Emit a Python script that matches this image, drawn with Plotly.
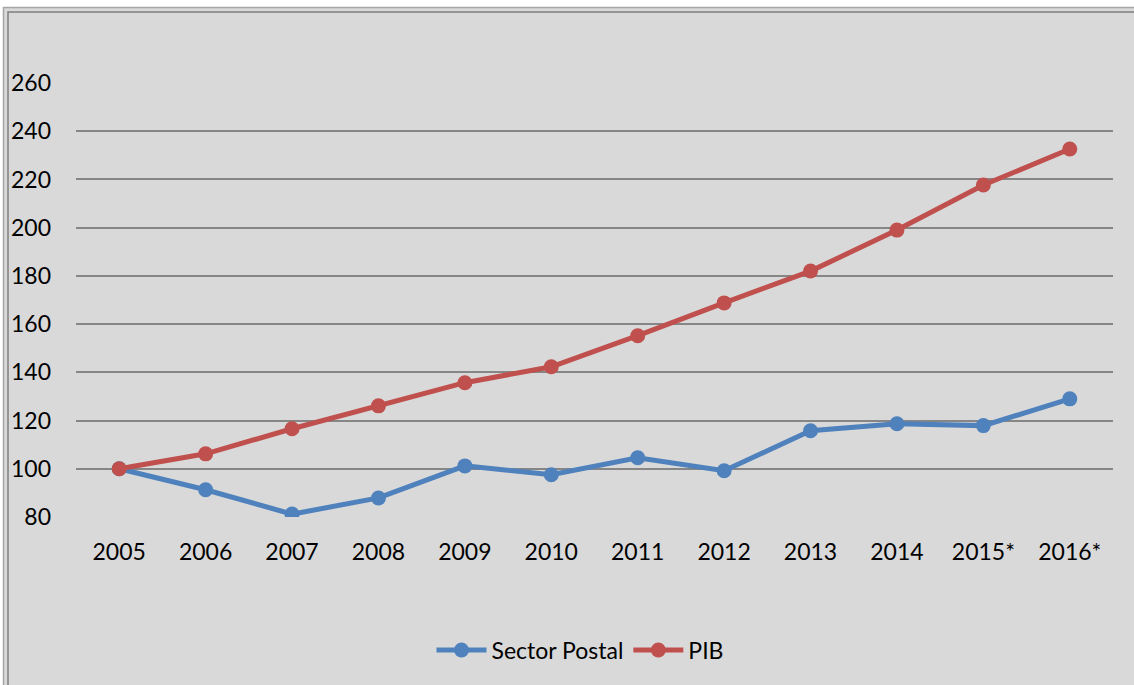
import plotly.graph_objects as go

years = ["2005", "2006", "2007", "2008", "2009", "2010", "2011", "2012", "2013", "2014", "2015*", "2016*"]
sector_postal = [100, 91.3, 81.2, 87.9, 101.2, 97.5, 104.6, 99.2, 115.8, 118.7, 117.9, 129.0]
pib = [100, 106.2, 116.6, 126.1, 135.7, 142.3, 155.2, 168.8, 182.0, 199.0, 217.7, 232.6]
y_ticks = [80, 100, 120, 140, 160, 180, 200, 220, 240, 260]

W, H = 1134, 685
L, R, T, B = 76, 21, 83, 168
PW, PH = W - L - R, H - T - B

def px(x):
    return (x - L) / PW

def py(y):
    return (H - B - y) / PH

FONT = "Lato"
BLUE = "#4F81BD"
RED = "#C0504D"

fig = go.Figure()
fig.add_trace(go.Scatter(x=years, y=sector_postal, name="Sector Postal", mode="lines+markers",
                         line=dict(color=BLUE, width=5), marker=dict(color=BLUE, size=15)))
fig.add_trace(go.Scatter(x=years, y=pib, name="PIB", mode="lines+markers",
                         line=dict(color=RED, width=5), marker=dict(color=RED, size=15)))

shapes = [
    dict(type="rect", xref="paper", yref="paper", layer="below",
         x0=px(3.5), x1=px(W + 20), y0=py(H + 20), y1=py(7.5),
         fillcolor="#D9D9D9", line=dict(color="#A6A6A6", width=1.5)),
    dict(type="rect", xref="paper", yref="paper", layer="below",
         x0=px(8), x1=px(W + 20), y0=py(H + 20), y1=py(12),
         fillcolor="rgba(0,0,0,0)", line=dict(color="#7F7F7F", width=1.5)),
]

fig.update_layout(
    width=W, height=H,
    margin=dict(l=L, r=R, t=T, b=B),
    paper_bgcolor="white",
    plot_bgcolor="rgba(0,0,0,0)",
    font=dict(family=FONT, size=23, color="black"),
    shapes=shapes,
    showlegend=True,
    legend=dict(orientation="h", x=0.486, xanchor="center", y=py(650), yanchor="middle",
                font=dict(family=FONT, size=23, color="black"), bgcolor="rgba(0,0,0,0)",
                itemwidth=50),
    xaxis=dict(type="category", range=[-0.5, 11.5], showgrid=False, zeroline=False,
               showline=False, ticks="", ticklabelstandoff=19,
               tickfont=dict(family=FONT, size=23, color="black")),
    yaxis=dict(range=[80, 260], tickvals=y_ticks, showgrid=True, gridcolor="#868686",
               gridwidth=2, zeroline=False, showline=False, ticks="",
               ticklabelstandoff=24, tickfont=dict(family=FONT, size=23, color="black")),
    annotations=[dict(text="<b>Evolución comparada del Sector postal y del PIB</b>",
                      xref="paper", yref="paper", x=px(580), y=py(3), xanchor="center",
                      yanchor="bottom", showarrow=False,
                      font=dict(family=FONT, size=22, color="black"))],
)

fig.write_html("out.html", config={"displayModeBar": False},
               post_script="document.body.style.margin='0';document.body.style.overflow='hidden';")
